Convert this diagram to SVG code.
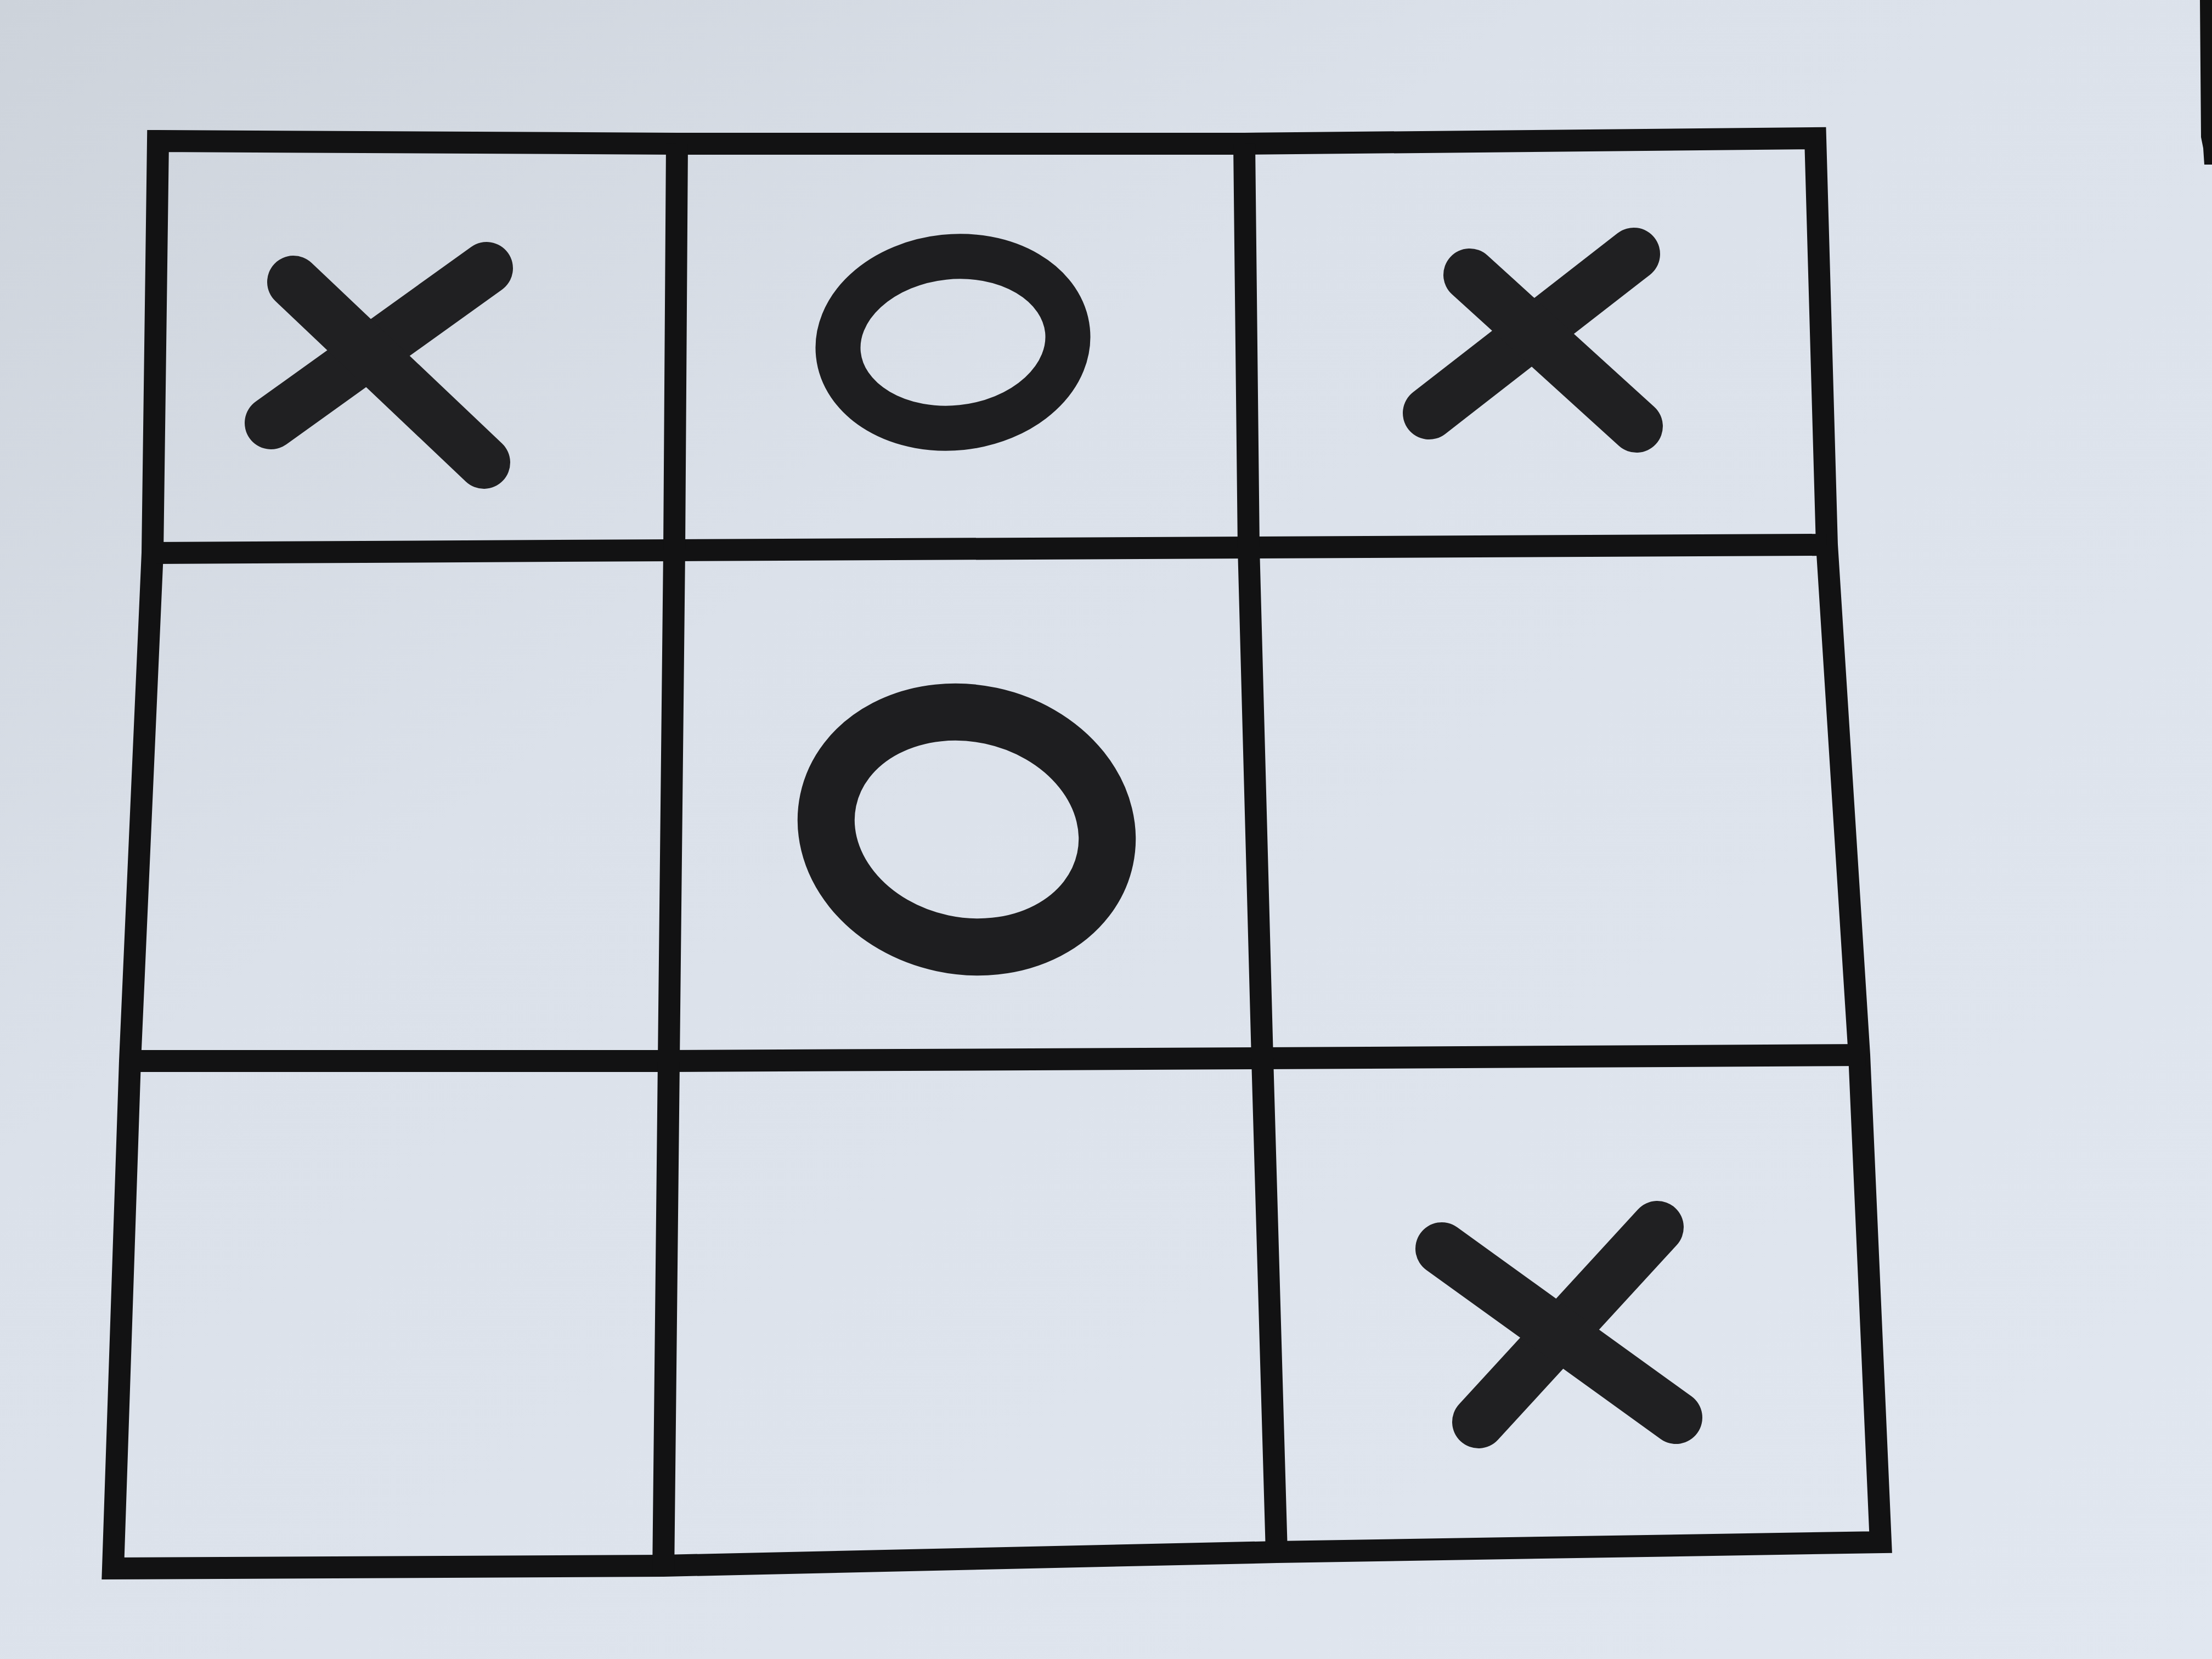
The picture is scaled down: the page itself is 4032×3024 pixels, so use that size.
<svg xmlns="http://www.w3.org/2000/svg" width="4032" height="3024" viewBox="0 0 4032 3024">
<defs>
<linearGradient id="paper" x1="0" y1="0" x2="1" y2="1">
<stop offset="0" stop-color="#cdd3db"/>
<stop offset="0.35" stop-color="#dbe1ea"/>
<stop offset="1" stop-color="#e1e7f0"/>
</linearGradient>
<style>
.grid{fill:none;stroke:#121213;stroke-width:40;stroke-linejoin:miter;stroke-linecap:butt}
.x{fill:none;stroke:#202022;stroke-width:96;stroke-linecap:round}
.o{fill:none;stroke:#1e1e20}
</style>
</defs>
<rect width="4032" height="3024" fill="url(#paper)"/>
<path d="M4010,0 L4012,250 L4016,270 L4018,300 L4032,300 L4032,0 Z" fill="#111"/>
<g id="grid">
<path class="grid" d="M288,257 L1234,262 L2268,262 L3309,252 L3330,993 L3389,1923 L3428,2811 L2327,2829 L1209,2854 L206,2859 L237,1934 L278,1008 Z"/>
<path class="grid" d="M278,1008 L1229,1003 L2276,998 L3330,993"/>
<path class="grid" d="M226,1934 L1219,1934 L2301,1929 L3400,1923"/>
<path class="grid" d="M1234,262 L1229,1003 L1219,1934 L1209,2872"/>
<path class="grid" d="M2268,262 L2276,998 L2301,1929 L2327,2829"/>
</g>
<g id="mark-top-left">
<line class="x" x1="494" y1="771" x2="887" y2="489"/>
<line class="x" x1="535" y1="514" x2="882" y2="843"/>
</g>
<g id="mark-top-middle">
<ellipse class="o" cx="1737" cy="624" rx="210" ry="156" stroke-width="82" transform="rotate(-6 1737 624)"/>
</g>
<g id="mark-top-right">
<line class="x" x1="2605" y1="753" x2="2978" y2="463"/>
<line class="x" x1="2679" y1="501" x2="2983" y2="777"/>
</g>
<g id="mark-center">
<ellipse class="o" cx="1762" cy="1512" rx="258" ry="212" stroke-width="104" transform="rotate(12 1762 1512)"/>
</g>
<g id="mark-bottom-right">
<line class="x" x1="2695" y1="2592" x2="3021" y2="2237"/>
<line class="x" x1="2628" y1="2276" x2="3055" y2="2584"/>
</g>
</svg>
